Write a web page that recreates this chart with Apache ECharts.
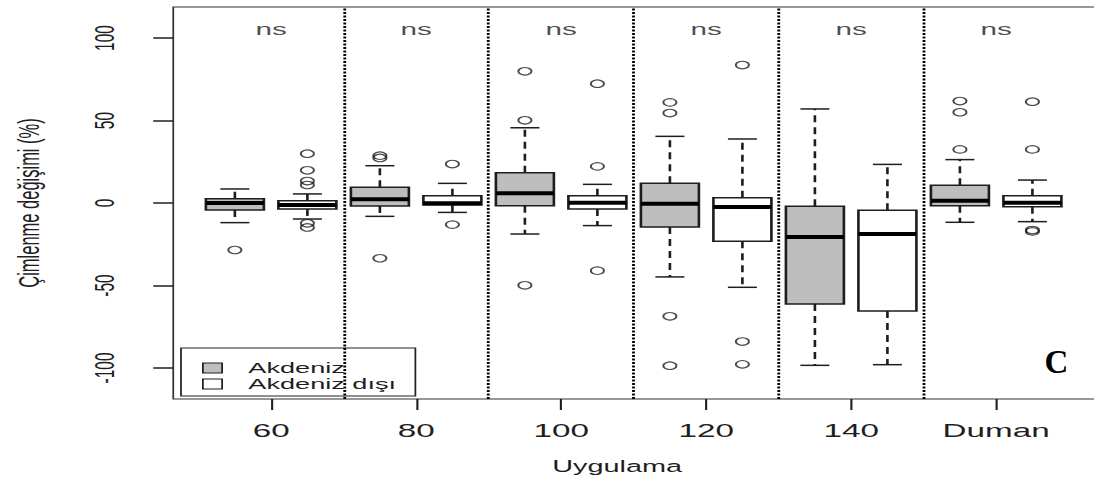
<!DOCTYPE html>
<html>
<head>
<meta charset="utf-8">
<script src="https://cdn.jsdelivr.net/npm/echarts@6/dist/echarts.min.js"></script>
<style>
  html, body { margin: 0; padding: 0; background: #fff; overflow: hidden; }
  #wrap { width: 1094px; height: 487px; overflow: hidden; position: relative; }
  /* the chart is laid out narrow and widened horizontally, like the original device */
  #chart { width: 630px; height: 487px; transform: scaleX(1.75); transform-origin: 0 0; }
</style>
</head>
<body>
<div id="wrap"><div id="chart"></div></div>
<script>
// Treatments (x groups) and significance marks shown above each group
const groupLabels = ['60', '80', '100', '120', '140', 'Duman'];
const sigLabels = ['ns', 'ns', 'ns', 'ns', 'ns', 'ns'];
const seriesNames = ['Akdeniz', 'Akdeniz dışı'];
const yTicks = [-100, -50, 0, 50, 100];

// Box statistics per group: [lower whisker, Q1, median, Q3, upper whisker]
const akdenizStats = [
  [-11.9, -4.2, 0.0, 2.6, 8.5],
  [-8.1, -1.8, 2.2, 9.5, 22.6],
  [-18.8, -1.6, 5.9, 18.4, 45.6],
  [-44.8, -14.5, -0.4, 11.9, 40.4],
  [-98.4, -61.2, -20.6, -2.0, 57.0],
  [-11.7, -1.6, 1.4, 10.7, 26.3]
];
const disiStats = [
  [-9.7, -3.6, -1.2, 1.4, 5.5],
  [-5.7, -1.2, -0.2, 4.4, 11.9],
  [-13.7, -3.6, 0.2, 4.4, 11.3],
  [-51.1, -23.2, -2.4, 3.2, 38.8],
  [-98.0, -65.5, -18.8, -4.4, 23.4],
  [-11.3, -2.2, 0.2, 4.4, 13.9]
];

// Outlying observations per group
const akdenizOutliers = [
  [-28.5],
  [27.3, 28.7, -33.5],
  [79.8, 50.1, -49.9],
  [61.0, 54.5, -68.7, -98.6],
  [],
  [61.8, 55.0, 32.5]
];
const disiOutliers = [
  [29.9, 19.8, 13.3, 10.9, -12.3, -14.8],
  [23.6, -13.1],
  [72.3, 22.2, -41.0],
  [83.6, -84.0, -97.8],
  [],
  [61.4, 32.5, -16.4, -17.2]
];

const fills = ['#bebebe', '#ffffff'];
const ink = '#1e1e1e';
const font = "'Liberation Sans', Arial, sans-serif";

// box k of group g sits at x = 2g + 1 + k
function boxData(stats, k) {
  return stats.map((s, g) => [2 * g + 1 + k].concat(s));
}
function outlierData(list, k) {
  const out = [];
  list.forEach((vals, g) => vals.forEach(v => out.push([2 * g + 1 + k, v])));
  return out;
}

function renderBox(params, api) {
  const x = api.value(0);
  const lo = api.value(1), q1 = api.value(2), med = api.value(3), q3 = api.value(4), hi = api.value(5);
  const half = 0.4, cap = 0.2;
  const c = (a, b) => api.coord([a, b]);
  const fill = api.visual('color');
  const pTL = c(x - half, q3), pBR = c(x + half, q1);
  const solid = { stroke: ink, lineWidth: 1.5, fill: null };
  const dashed = { stroke: ink, lineWidth: 1.5, lineDash: [7, 5], fill: null };
  const seg = (a, b, style) => ({ type: 'line', shape: { x1: a[0], y1: a[1], x2: b[0], y2: b[1] }, style: style });
  return {
    type: 'group',
    children: [
      seg(c(x, q3), c(x, hi), dashed),
      seg(c(x, q1), c(x, lo), dashed),
      seg(c(x - cap, hi), c(x + cap, hi), solid),
      seg(c(x - cap, lo), c(x + cap, lo), solid),
      { type: 'rect', shape: { x: pTL[0], y: pTL[1], width: pBR[0] - pTL[0], height: pBR[1] - pTL[1] },
        style: { fill: fill, stroke: ink, lineWidth: 1.5 } },
      seg(c(x - half, med), c(x + half, med), { stroke: '#000', lineWidth: 4 })
    ]
  };
}

const chart = echarts.init(document.getElementById('chart'), null, { renderer: 'svg' });
const sx = 1.75;

chart.setOption({
  animation: false,
  backgroundColor: '#fff',
  textStyle: { fontFamily: font },
  grid: {
    left: 171 / sx, top: 7, width: (12.9 - 0.15) * 72.68 / sx, height: 392,
    show: true, borderColor: '#333', borderWidth: 1, backgroundColor: 'transparent'
  },
  legend: {
    orient: 'vertical', left: 181 / sx, top: 348,
    padding: [12, 11, 4, 12], itemGap: 0, itemWidth: 11, itemHeight: 10,
    borderColor: '#222', borderWidth: 1, backgroundColor: 'transparent',
    selectedMode: false,
    textStyle: { fontFamily: font, fontSize: 15.5, color: ink, padding: [0, 0, 0, 10], lineHeight: 16 },
    data: [
      { name: seriesNames[0], icon: 'rect', itemStyle: { color: fills[0], borderColor: ink, borderWidth: 1 } },
      { name: seriesNames[1], icon: 'rect', itemStyle: { color: fills[1], borderColor: ink, borderWidth: 1 } }
    ]
  },
  xAxis: {
    type: 'value', min: 0.15, max: 12.9,
    name: 'Uygulama', nameLocation: 'middle', nameGap: 59,
    nameTextStyle: { fontFamily: font, fontSize: 16.5, color: ink, padding: [0, 21, 0, 0] },
    axisLine: { show: false, onZero: false },
    splitLine: { show: false },
    axisTick: { show: true, length: 11, customValues: groupLabels.map((_, g) => 2 * g + 1.5),
      lineStyle: { color: ink, width: 1.2 } },
    axisLabel: { show: true, margin: 22, fontSize: 19, color: ink, fontFamily: font,
      customValues: groupLabels.map((_, g) => 2 * g + 1.5),
      formatter: v => groupLabels[Math.round((v - 1.5) / 2)] }
  },
  yAxis: {
    type: 'value', min: -118.8, max: 118.8,
    name: 'Çimlenme değişimi (%)', nameLocation: 'middle', nameRotate: 90, nameGap: 74,
    nameTextStyle: { fontFamily: font, fontSize: 16.5, color: ink },
    axisLine: { show: false, onZero: false },
    splitLine: { show: false },
    axisTick: { show: true, length: 20 / sx, customValues: yTicks, lineStyle: { color: ink, width: 1.5 } },
    axisLabel: { show: true, rotate: 90, margin: 31, fontSize: 15.5, color: ink, fontFamily: font,
      customValues: yTicks }
  },
  series: [
    {
      name: seriesNames[0], type: 'custom', renderItem: renderBox,
      itemStyle: { color: fills[0] }, data: boxData(akdenizStats, 0),
      encode: { x: 0, y: [1, 2, 3, 4, 5] }, z: 3,
      markLine: {
        silent: true, symbol: 'none', label: { show: false },
        lineStyle: { color: '#000', width: 1.6, type: [2, 1.5] },
        data: groupLabels.slice(1).map((_, g) => ({ xAxis: 2 * g + 2.5 }))
      }
    },
    {
      name: seriesNames[1], type: 'custom', renderItem: renderBox,
      itemStyle: { color: fills[1] }, data: boxData(disiStats, 1),
      encode: { x: 0, y: [1, 2, 3, 4, 5] }, z: 3
    },
    {
      type: 'scatter', symbol: 'circle', symbolSize: 7.5, z: 4,
      itemStyle: { color: 'rgba(255,255,255,0)', borderColor: ink, borderWidth: 1.1 },
      data: outlierData(akdenizOutliers, 0).concat(outlierData(disiOutliers, 1))
    },
    {
      type: 'scatter', symbolSize: 0, silent: true, z: 5,
      label: { show: true, position: 'inside', formatter: p => sigLabels[p.dataIndex],
        fontFamily: font, fontSize: 17, color: ink },
      data: sigLabels.map((_, g) => [2 * g + 1.5, 105.2])
    }
  ],
  graphic: [
    {
      type: 'text', x: 1056.5 / sx, y: 362, scaleX: 1 / sx, z: 10,
      style: { text: 'C', font: "bold 33px 'Liberation Serif', 'Times New Roman', serif",
        fill: '#000', textAlign: 'center', textVerticalAlign: 'middle' }
    }
  ]
});
</script>
</body>
</html>
